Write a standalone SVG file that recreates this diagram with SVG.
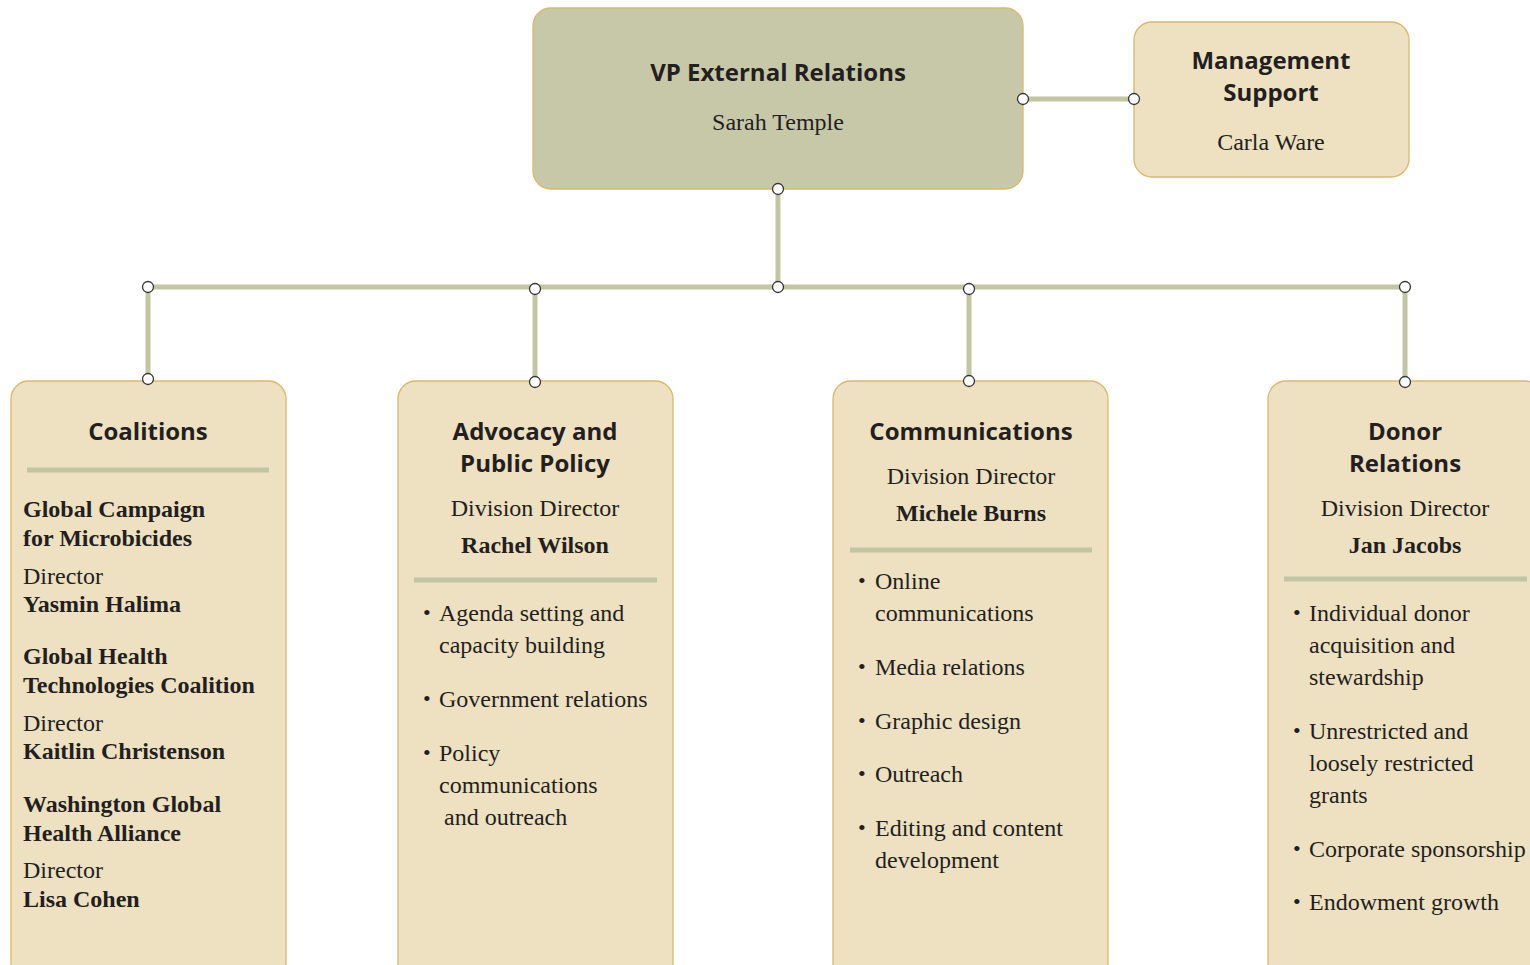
<svg xmlns="http://www.w3.org/2000/svg" width="1530" height="965" viewBox="0 0 1530 965">
<style>
.box{fill:#ede1c1;stroke:#d9b96c;stroke-width:1.3}
.vp{fill:#c7c8a8;stroke:#d9b96c;stroke-width:1.3}
.ln{stroke:#c2c5a2;stroke-width:5;fill:none}
.dot{fill:#fff;stroke:#333;stroke-width:1.3}
.h{font-family:"Open Sans","Noto Sans",sans-serif;font-weight:700;font-size:24px;fill:#231f20;text-anchor:middle}
.s{font-family:"Liberation Serif","Times New Roman",serif;font-size:24px;fill:#231f20}
.bl{font-size:22px}
.c{text-anchor:middle}
.b{font-weight:700}
</style>
<rect width="1530" height="965" fill="#fff"/>
<g id="connectors">
<path class="ln" d="M1023 99H1134"/>
<path class="ln" d="M778 189V287"/>
<path class="ln" d="M148 287H1405"/>
<path class="ln" d="M148 287V379"/>
<path class="ln" d="M535 289V382"/>
<path class="ln" d="M969 289V381"/>
<path class="ln" d="M1405 287V382"/>
</g>
<g id="vp">
<rect class="vp" x="533" y="8" width="490" height="181" rx="18"/>
<text class="h" x="778" y="81">VP External Relations</text>
<text class="s c" x="778" y="130">Sarah Temple</text>
</g>
<g id="mgmt">
<rect class="box" x="1134" y="22" width="275" height="155" rx="18"/>
<text class="h" x="1271" y="69">Management</text>
<text class="h" x="1271" y="101">Support</text>
<text class="s c" x="1271" y="150">Carla Ware</text>
</g>
<g id="coalitions">
<rect class="box" x="11" y="381" width="275" height="600" rx="18"/>
<text class="h" x="148" y="440">Coalitions</text>
<path class="ln" d="M27 470H269"/>
<text class="s b" x="23" y="517">Global Campaign</text>
<text class="s b" x="23" y="546">for Microbicides</text>
<text class="s" x="23" y="584">Director</text>
<text class="s b" x="23" y="612">Yasmin Halima</text>
<text class="s b" x="23" y="664">Global Health</text>
<text class="s b" x="23" y="693">Technologies Coalition</text>
<text class="s" x="23" y="731">Director</text>
<text class="s b" x="23" y="759">Kaitlin Christenson</text>
<text class="s b" x="23" y="812">Washington Global</text>
<text class="s b" x="23" y="841">Health Alliance</text>
<text class="s" x="23" y="878">Director</text>
<text class="s b" x="23" y="907">Lisa Cohen</text>
</g>
<g id="advocacy">
<rect class="box" x="398" y="381" width="275" height="600" rx="18"/>
<text class="h" x="535" y="440">Advocacy and</text>
<text class="h" x="535" y="472">Public Policy</text>
<text class="s c" x="535" y="516">Division Director</text>
<text class="s c b" x="535" y="553">Rachel Wilson</text>
<path class="ln" d="M414 580H657"/>
<text class="s bl" x="423" y="620">•</text><text class="s" x="439" y="621">Agenda setting and</text>
<text class="s" x="439" y="653">capacity building</text>
<text class="s bl" x="423" y="706">•</text><text class="s" x="439" y="707">Government relations</text>
<text class="s bl" x="423" y="760">•</text><text class="s" x="439" y="761">Policy</text>
<text class="s" x="439" y="793">communications</text>
<text class="s" x="444" y="825">and outreach</text>
</g>
<g id="communications">
<rect class="box" x="833" y="381" width="275" height="600" rx="18"/>
<text class="h" x="971" y="440">Communications</text>
<text class="s c" x="971" y="484">Division Director</text>
<text class="s c b" x="971" y="521">Michele Burns</text>
<path class="ln" d="M850 550H1092"/>
<text class="s bl" x="858" y="588">•</text><text class="s" x="875" y="589">Online</text>
<text class="s" x="875" y="621">communications</text>
<text class="s bl" x="858" y="674">•</text><text class="s" x="875" y="675">Media relations</text>
<text class="s bl" x="858" y="728">•</text><text class="s" x="875" y="729">Graphic design</text>
<text class="s bl" x="858" y="781">•</text><text class="s" x="875" y="782">Outreach</text>
<text class="s bl" x="858" y="835">•</text><text class="s" x="875" y="836">Editing and content</text>
<text class="s" x="875" y="868">development</text>
</g>
<g id="donor">
<rect class="box" x="1268" y="381" width="275" height="600" rx="18"/>
<text class="h" x="1405" y="440">Donor</text>
<text class="h" x="1405" y="472">Relations</text>
<text class="s c" x="1405" y="516">Division Director</text>
<text class="s c b" x="1405" y="553">Jan Jacobs</text>
<path class="ln" d="M1284 579H1527"/>
<text class="s bl" x="1293" y="620">•</text><text class="s" x="1309" y="621">Individual donor</text>
<text class="s" x="1309" y="653">acquisition and</text>
<text class="s" x="1309" y="685">stewardship</text>
<text class="s bl" x="1293" y="738">•</text><text class="s" x="1309" y="739">Unrestricted and</text>
<text class="s" x="1309" y="771">loosely restricted</text>
<text class="s" x="1309" y="803">grants</text>
<text class="s bl" x="1293" y="856">•</text><text class="s" x="1309" y="857">Corporate sponsorship</text>
<text class="s bl" x="1293" y="909">•</text><text class="s" x="1309" y="910">Endowment growth</text>
</g>
<g id="ports">
<circle class="dot" cx="1023" cy="99" r="5.5"/>
<circle class="dot" cx="1134" cy="99" r="5.5"/>
<circle class="dot" cx="778" cy="189" r="5.5"/>
<circle class="dot" cx="148" cy="287" r="5.5"/>
<circle class="dot" cx="535" cy="289" r="5.5"/>
<circle class="dot" cx="778" cy="287" r="5.5"/>
<circle class="dot" cx="969" cy="289" r="5.5"/>
<circle class="dot" cx="1405" cy="287" r="5.5"/>
<circle class="dot" cx="148" cy="379" r="5.5"/>
<circle class="dot" cx="535" cy="382" r="5.5"/>
<circle class="dot" cx="969" cy="381" r="5.5"/>
<circle class="dot" cx="1405" cy="382" r="5.5"/>
</g>
</svg>
